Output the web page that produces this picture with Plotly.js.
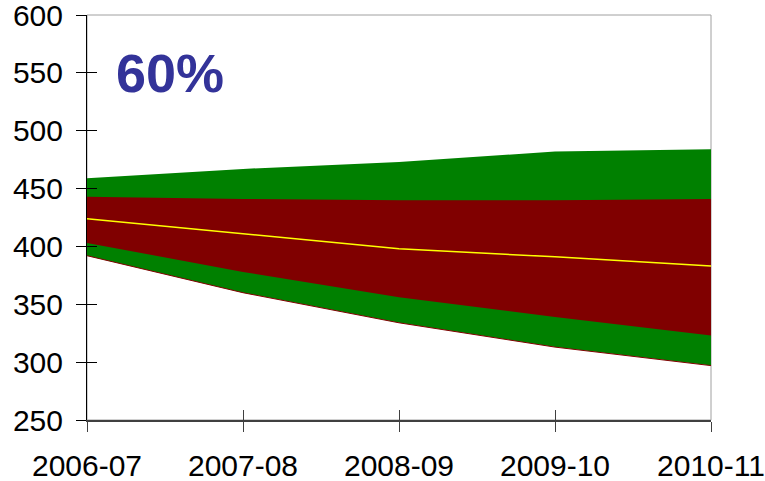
<!DOCTYPE html>
<html>
<head>
<meta charset="utf-8">
<script src="https://cdn.plot.ly/plotly-3.0.1.min.js"></script>
<style>html,body{margin:0;padding:0;background:#fff;}#chart{width:765px;height:481px;}</style>
</head>
<body>
<div id="chart"></div>
<script>
const years = ["2006-07", "2007-08", "2008-09", "2009-10", "2010-11"];
const greenTop = [459, 467, 473, 482, 484];
const redTop = [443, 441, 440, 440, 441];
const median = [424, 411, 398, 391, 383];
const redBottom = [403, 378, 356, 339, 323];
const greenBottom = [392, 360, 334, 313, 297];
const yTicks = [250, 300, 350, 400, 450, 500, 550, 600];
const label = "60%";

const traces = [
  {x: years, y: greenBottom, type: "scatter", mode: "lines", line: {color: "#800000", width: 1}, hoverinfo: "skip", showlegend: false},
  {x: years, y: greenTop, type: "scatter", mode: "lines", fill: "tonexty", fillcolor: "#008000", line: {color: "#008000", width: 0}, hoverinfo: "skip", showlegend: false},
  {x: years, y: redBottom, type: "scatter", mode: "lines", line: {color: "#800000", width: 0}, hoverinfo: "skip", showlegend: false},
  {x: years, y: redTop, type: "scatter", mode: "lines", fill: "tonexty", fillcolor: "#800000", line: {color: "#800000", width: 0}, hoverinfo: "skip", showlegend: false},
  {x: years, y: median, type: "scatter", mode: "lines", line: {color: "#FFFF00", width: 1.5}, hoverinfo: "skip", showlegend: false},
  {x: years, y: median, type: "scatter", mode: "lines", xaxis: "x2", yaxis: "y2", line: {width: 0}, opacity: 0, hoverinfo: "skip", showlegend: false}
];

const tickFont = {family: "Liberation Sans, Arial, sans-serif", size: 30, color: "#000"};

const layout = {
  width: 765, height: 481,
  margin: {l: 87, r: 54, t: 15, b: 61, pad: 0},
  paper_bgcolor: "#fff", plot_bgcolor: "#fff",
  showlegend: false,
  xaxis: {
    type: "category", categoryorder: "array", categoryarray: years,
    range: [0, 4], fixedrange: true,
    showgrid: false, zeroline: false,
    showline: true, linecolor: "#404040", linewidth: 2,
    ticks: "outside", ticklen: 10, tickcolor: "#404040", tickwidth: 1,
    tickfont: tickFont, ticklabelstandoff: 8, ticklabeloverflow: "allow"
  },
  yaxis: {
    range: [250, 600], fixedrange: true,
    tickvals: yTicks, ticktext: yTicks.map(String),
    showgrid: false, zeroline: false,
    showline: true, linecolor: "#000", linewidth: 1,
    ticks: "outside", ticklen: 10, tickcolor: "#000", tickwidth: 1,
    tickfont: tickFont, ticklabelstandoff: 7, ticklabeloverflow: "allow"
  },
  xaxis2: {
    type: "category", categoryorder: "array", categoryarray: years,
    overlaying: "x", side: "bottom", range: [0, 4], fixedrange: true,
    showgrid: false, zeroline: false, showline: false,
    ticks: "inside", ticklen: 10, tickcolor: "#404040", tickwidth: 1,
    showticklabels: false
  },
  yaxis2: {
    overlaying: "y", side: "left", range: [250, 600], fixedrange: true,
    tickvals: yTicks, showgrid: false, zeroline: false, showline: false,
    ticks: "inside", ticklen: 10, tickcolor: "#000", tickwidth: 1,
    showticklabels: false
  },
  shapes: [
    {type: "rect", xref: "paper", yref: "paper", x0: 0, x1: 1, y0: 0, y1: 1,
     line: {color: "#A0A0A0", width: 1}, fillcolor: "rgba(0,0,0,0)", layer: "below"}
  ],
  annotations: [
    {text: "<b>" + label + "</b>", xref: "paper", yref: "y", x: 0.133, y: 550,
     xanchor: "center", yanchor: "middle", showarrow: false,
     font: {family: "Liberation Sans, Arial, sans-serif", size: 54, color: "#333399"}}
  ]
};

Plotly.newPlot("chart", traces, layout, {staticPlot: true, displayModeBar: false});
</script>
</body>
</html>
